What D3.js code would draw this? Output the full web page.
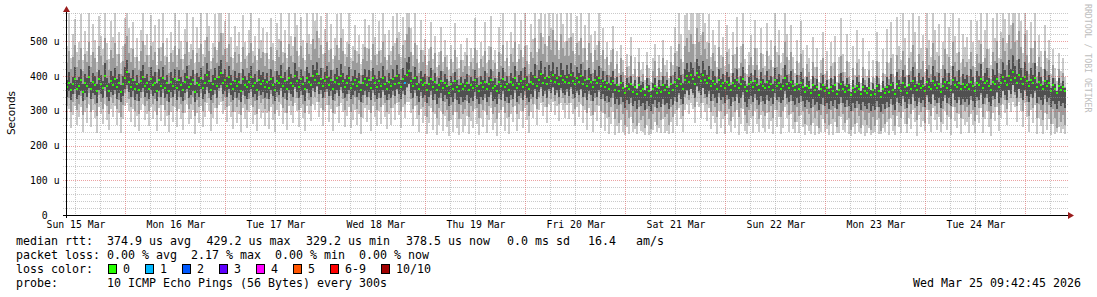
<!DOCTYPE html>
<html><head><meta charset="utf-8">
<script src="https://cdn.jsdelivr.net/npm/d3@7"></script>
<style>body{margin:0;background:#fff}svg{display:block}</style>
</head><body>
<svg id="c" width="1097" height="297"></svg>
<script>
// ---- data (microseconds), one value per time bin ----
const med = [
368,381,359,377,392,364,372,388,355,379,371,396,362,383,374,357,390,378,366,401,370,358,385,374,391,367,380,353,376,395,412,384,369,389,363,377,360,386,398,371,379,364,392,375,381,358,388,372,395,366,
379,356,384,371,392,365,388,374,360,382,397,369,376,388,355,381,373,393,366,379,402,385,361,378,392,370,398,409,381,389,372,396,377,363,386,371,382,358,390,375,367,384,396,372,380,361,389,377,385,368,
383,366,391,374,360,387,379,398,371,385,364,393,380,372,401,386,369,390,377,362,395,383,374,399,388,406,379,392,370,387,398,375,389,364,382,393,376,401,385,369,380,394,366,377,389,372,384,359,379,391,
374,388,365,393,380,369,386,372,395,378,364,383,371,390,376,399,381,368,392,379,403,415,386,371,395,377,362,389,374,381,360,376,392,368,383,359,374,387,366,380,371,352,378,364,385,369,356,377,363,371,
381,359,374,366,388,371,357,379,368,384,362,376,389,365,372,358,383,370,391,367,377,361,382,373,394,366,378,385,369,391,375,362,384,378,398,372,389,405,380,393,376,398,387,404,383,395,378,401,388,382,
397,381,402,386,376,393,384,399,378,389,371,392,383,367,388,379,394,372,385,369,381,364,376,387,361,374,358,379,366,350,371,362,377,355,368,349,373,358,364,346,369,357,343,362,371,352,366,355,374,359,
367,352,376,361,382,370,391,376,363,388,399,384,402,391,378,409,396,385,403,388,380,394,371,386,377,364,389,372,380,366,384,375,359,381,370,388,365,378,392,369,357,376,383,368,387,374,361,382,371,365,
383,369,376,361,388,372,380,364,371,393,378,366,384,370,359,377,363,381,369,355,372,366,351,374,360,368,346,362,375,357,365,350,369,358,373,349,361,378,364,355,371,359,344,366,353,370,362,348,367,358,
352,366,344,359,348,371,357,341,362,350,368,355,374,361,349,377,365,358,381,369,352,374,363,386,370,359,378,366,372,357,383,369,362,387,374,365,378,355,371,384,366,379,360,388,373,367,381,362,377,369,
375,362,384,370,358,381,373,391,366,379,387,370,361,383,376,392,368,380,397,385,374,399,388,411,393,381,402,390,377,398,385,371,389,379,395,367,382,374,363,386,370,379,358,373,364,352,371,360,368,356];
const innerLo = [
341,356,330,349,362,335,344,358,327,351,339,366,333,352,346,322,359,347,336,368,340,328,354,345,360,333,350,325,343,364,374,353,339,357,332,348,329,355,366,341,350,334,361,343,352,327,357,340,363,336,
348,326,353,340,360,332,357,341,329,350,364,337,345,356,324,351,340,362,333,348,369,352,330,345,360,338,365,374,349,356,340,363,346,331,354,338,351,326,358,343,335,352,364,339,349,330,357,345,353,336,
351,333,359,342,327,355,346,366,339,352,331,361,347,340,368,354,336,358,344,329,362,350,341,366,355,372,347,359,336,353,364,342,356,331,349,360,343,367,352,336,347,361,333,344,356,339,351,325,346,358,
340,355,331,360,346,335,352,338,361,344,330,349,337,356,342,364,347,333,358,345,369,378,350,336,361,342,325,354,338,346,322,339,357,331,348,320,336,352,327,344,333,314,341,326,350,330,318,339,324,332,
346,321,338,329,353,334,318,341,330,349,324,339,354,327,335,319,347,332,356,328,341,323,346,335,359,326,342,350,331,356,338,324,348,341,363,334,353,369,343,357,338,363,350,368,345,360,340,366,351,344,
362,343,367,349,337,358,346,364,339,352,332,357,345,328,351,340,359,333,348,329,342,324,337,350,320,334,316,340,325,308,330,320,337,313,327,306,332,315,322,303,328,314,300,319,331,309,324,312,334,316,
323,306,333,317,341,326,352,335,318,349,361,344,364,352,336,371,357,344,366,348,340,356,329,347,336,321,350,330,339,322,344,333,315,341,328,349,321,336,353,325,312,334,342,324,348,331,317,342,328,320,
345,329,337,320,350,332,341,323,330,356,338,324,346,329,316,337,321,342,327,311,331,324,307,334,317,326,302,319,336,313,322,305,327,314,332,304,318,339,321,311,330,315,299,323,308,329,318,303,325,313,
306,322,298,314,302,329,312,295,318,305,326,310,333,316,303,337,321,313,342,326,307,333,319,347,328,314,338,322,330,311,344,325,318,349,332,321,337,309,328,345,321,338,315,350,331,323,341,317,335,325,
333,316,343,327,312,340,330,351,320,337,347,326,315,342,333,353,322,338,358,344,330,361,347,374,353,338,364,350,332,359,343,325,349,336,356,321,340,330,317,345,325,336,311,329,318,305,327,313,322,309];
const innerHi = [
389,412,381,398,426,388,397,419,376,405,393,428,383,409,400,377,417,404,386,437,395,379,413,401,422,390,406,374,399,427,447,410,393,418,386,404,381,414,431,395,405,386,425,399,411,380,419,398,427,389,
403,376,411,394,421,387,416,398,382,408,428,391,400,417,375,409,396,424,388,405,438,414,383,403,422,394,430,445,407,419,396,428,403,385,413,394,409,378,421,399,389,410,429,395,406,382,418,402,412,390,
410,387,421,398,381,414,402,432,394,411,386,426,405,395,437,415,390,420,401,384,427,409,397,431,416,441,404,423,391,412,430,397,418,386,406,424,399,435,410,390,404,426,387,400,417,394,409,378,402,421,
397,416,385,424,404,390,413,395,428,401,384,410,392,421,398,433,405,388,422,402,440,455,411,392,426,399,380,415,396,406,378,398,423,387,409,377,394,414,383,406,391,371,401,382,412,388,373,398,381,390,
406,378,396,387,418,393,374,400,389,413,380,397,420,386,394,375,411,391,424,385,399,379,410,395,428,384,402,413,388,425,399,380,412,403,434,393,417,442,405,426,398,432,414,441,407,427,401,438,417,404,
432,406,438,412,396,427,409,435,400,418,389,424,407,385,416,401,430,392,414,386,404,381,397,415,378,396,372,402,384,366,393,379,401,370,389,364,398,374,383,360,393,373,356,381,395,365,388,371,401,376,
389,365,401,377,412,391,425,402,381,421,436,411,441,423,400,449,428,408,442,416,404,428,389,413,399,380,421,390,405,382,412,396,373,409,390,419,381,400,425,385,370,398,408,384,418,394,375,411,390,381,
413,388,401,377,424,391,406,380,392,432,403,384,414,389,372,402,378,411,390,369,396,385,364,399,374,390,360,381,402,370,388,364,394,374,399,361,380,410,385,370,395,376,355,388,365,397,382,358,393,373,
367,393,360,381,364,400,378,355,387,366,397,373,405,382,363,412,389,378,418,396,367,404,384,425,397,376,410,389,397,370,421,393,382,428,401,385,409,366,393,419,385,410,374,430,398,387,417,373,405,390,
404,379,419,396,371,413,401,434,386,408,424,393,374,419,403,438,384,406,441,418,398,445,421,460,429,406,448,423,396,440,414,385,423,402,437,381,412,396,375,421,388,404,366,394,376,358,393,371,386,365];
const midLo = [
314,338,297,325,349,302,320,343,288,331,309,352,296,335,318,285,346,326,306,357,313,291,339,322,348,304,330,281,317,351,362,334,310,340,299,327,290,336,355,315,329,300,347,318,333,287,341,316,352,303,
327,289,336,313,347,298,341,320,293,332,354,306,318,339,284,331,311,350,300,325,360,338,292,322,348,309,356,366,329,340,312,352,324,295,337,312,330,287,345,319,301,334,354,310,328,292,343,322,335,304,
334,298,347,318,290,339,326,358,309,334,294,351,327,313,363,338,302,345,320,293,352,331,315,357,340,368,325,348,303,336,355,316,343,294,328,350,314,361,334,303,327,349,297,318,341,306,332,282,322,346,
316,340,294,351,325,303,337,310,354,322,297,331,308,345,318,359,326,299,347,320,366,376,333,305,350,316,288,343,311,325,283,313,346,295,330,279,309,338,291,324,302,270,317,288,335,297,276,316,290,304,
327,283,314,298,343,309,279,320,301,337,287,315,344,292,310,277,333,303,348,294,322,281,330,311,352,291,319,336,299,346,317,286,335,320,357,305,340,362,324,349,311,356,334,365,327,352,318,360,338,323,
355,322,362,333,305,351,326,359,313,341,294,349,329,288,337,316,354,300,335,292,323,283,310,338,276,306,265,318,290,258,301,280,322,264,296,255,310,272,286,250,305,277,247,291,312,260,297,273,318,282,
291,260,311,283,328,302,345,317,285,340,356,331,362,344,311,369,350,323,366,337,318,347,296,329,312,281,339,298,319,284,331,306,270,324,297,339,281,307,344,289,266,303,320,284,337,305,276,326,298,285,
332,296,315,280,340,301,324,283,299,349,320,287,329,295,268,312,284,326,298,261,306,290,259,310,278,300,250,288,316,265,292,258,303,276,309,254,285,321,290,266,311,279,245,298,262,307,284,251,300,272,
259,294,246,281,256,312,278,241,290,262,309,276,318,287,255,324,297,280,333,304,262,318,291,341,309,272,326,295,311,266,339,303,285,346,314,291,322,267,305,337,289,320,275,349,312,293,330,279,316,300,
311,282,331,302,270,327,308,346,283,318,337,300,275,330,312,350,288,316,357,332,305,361,336,378,346,314,365,338,298,358,324,286,339,308,352,279,320,301,272,333,292,316,261,304,278,250,296,267,289,259];
const midHi = [
438,472,421,455,489,427,446,481,414,463,440,497,425,469,452,411,485,458,433,508,447,418,476,451,494,430,462,406,443,492,515,467,439,479,424,456,417,473,501,441,460,425,487,447,468,412,480,444,496,431,
455,409,467,441,486,426,478,450,417,463,499,432,448,476,405,465,439,492,428,454,513,471,419,452,484,436,497,524,459,477,440,493,456,418,470,437,462,410,483,448,423,466,495,437,458,414,479,451,469,429,
467,421,484,447,414,475,456,501,437,466,418,492,458,441,511,473,427,487,452,415,494,463,445,506,479,529,452,489,424,466,497,439,477,416,458,490,446,510,471,430,455,491,419,444,476,436,462,402,450,484,
444,477,415,493,459,431,472,437,498,454,416,461,433,486,446,509,463,421,490,451,522,541,470,428,495,448,408,476,439,459,401,442,483,418,465,396,433,471,414,456,426,385,448,409,475,421,392,447,411,430,
460,404,441,421,480,436,397,450,425,472,408,445,483,415,437,393,468,428,490,412,452,399,464,440,498,414,448,474,423,487,444,405,470,453,509,431,479,524,462,493,440,514,476,531,459,500,448,520,482,457,
502,458,513,471,432,494,461,508,441,481,417,495,466,410,476,447,501,424,474,414,456,403,440,478,393,435,378,451,411,369,427,398,458,377,421,366,441,387,407,359,433,393,352,415,444,370,422,389,451,400,
412,371,441,402,466,428,492,449,405,486,508,469,521,492,440,537,498,459,526,479,448,496,419,467,442,397,483,423,454,402,470,434,384,460,422,484,398,437,493,410,377,431,456,403,481,433,392,465,423,404,
471,419,447,398,485,426,461,403,424,499,455,407,468,419,380,443,403,464,424,372,435,412,366,440,395,427,357,409,451,377,415,365,430,391,439,360,405,458,412,378,444,396,349,423,373,436,403,356,427,388,
366,418,351,398,362,444,394,344,410,371,439,391,452,407,362,461,421,398,473,431,370,452,413,488,439,386,464,419,443,376,481,431,405,494,446,411,457,379,433,478,409,454,390,499,441,414,468,396,448,425,
441,399,469,428,383,463,437,492,401,451,479,424,391,468,442,502,409,450,510,471,433,519,478,552,499,447,529,484,423,520,461,406,480,436,502,397,455,425,386,472,414,447,372,431,394,355,420,381,410,367];
const minRtt = [
271,305,249,288,314,258,281,310,240,296,266,320,252,301,279,237,312,291,262,318,274,246,306,283,315,259,293,236,277,313,322,299,268,304,254,286,243,302,319,272,292,255,311,276,298,241,307,270,316,257,
285,239,296,268,312,252,305,277,244,293,318,261,275,302,234,294,266,314,253,283,321,299,242,279,309,262,317,324,290,303,267,313,281,248,297,266,290,238,308,276,251,295,316,263,287,243,305,279,294,257,
294,248,311,273,239,302,286,320,262,294,245,315,287,265,322,298,253,307,279,241,314,291,270,318,301,325,281,309,255,297,316,268,305,243,290,312,266,321,296,254,284,310,249,272,302,258,291,233,278,307,
268,302,243,314,283,255,298,262,317,281,247,291,259,308,273,321,288,251,311,279,324,326,293,257,313,275,238,306,264,284,232,265,309,246,292,230,260,299,241,285,253,226,274,238,297,249,229,276,240,256,
285,233,270,249,304,263,229,280,253,300,237,272,307,244,264,228,294,256,311,242,279,232,290,267,314,241,275,299,250,309,273,235,297,280,320,259,302,322,284,311,265,318,295,324,287,313,271,321,301,279,
316,277,322,290,255,311,281,319,264,301,244,309,286,238,296,270,315,250,293,241,278,234,262,297,229,256,236,272,240,231,254,233,281,238,248,233,265,241,238,229,259,229,232,244,268,240,250,237,275,236,
243,234,269,236,290,256,309,276,238,303,318,290,322,306,265,324,311,279,321,297,271,308,248,286,266,232,300,251,276,234,292,259,240,283,249,301,231,262,306,241,232,257,279,236,299,261,239,288,250,238,
293,248,270,232,302,254,283,234,251,312,279,240,291,247,236,268,236,288,252,230,259,242,233,265,229,255,234,240,275,238,247,231,262,229,269,235,237,282,245,240,272,233,228,253,232,266,238,234,260,226,
236,251,229,236,238,272,232,232,249,239,269,230,279,243,231,286,254,236,295,262,237,278,247,303,268,226,287,252,270,242,301,262,240,308,272,246,281,240,263,298,244,281,229,311,270,250,292,234,275,258,
268,237,291,259,237,288,265,307,236,276,298,254,228,293,270,312,243,278,318,293,260,323,296,325,310,268,325,300,253,322,283,239,301,264,316,232,279,255,233,294,246,276,230,262,232,239,254,235,247,233];
const maxRtt = [
487,585,452,521,563,468,498,577,446,530,472,585,459,549,503,441,572,516,477,585,494,450,558,511,585,463,527,438,486,568,585,539,481,556,455,509,444,533,585,490,521,461,576,497,547,432,565,484,585,458,
508,441,527,476,585,459,562,502,448,536,585,470,493,571,436,540,482,585,462,505,585,545,443,496,578,474,585,585,524,559,481,585,512,452,543,487,528,439,575,499,457,531,585,472,515,446,566,503,538,465,
526,449,568,494,442,553,507,585,470,531,451,585,515,486,585,548,457,571,503,447,585,522,491,585,559,585,509,574,462,534,585,476,551,448,508,579,481,585,536,464,497,583,452,487,546,471,519,435,493,565,
481,546,447,585,512,463,557,476,585,520,445,531,472,574,494,585,526,455,569,503,585,585,538,461,585,489,437,562,474,507,431,479,555,448,516,426,468,541,441,503,459,418,489,439,552,455,422,493,446,470,
510,428,480,451,568,476,424,497,458,555,436,486,572,447,475,421,540,463,585,444,501,430,527,482,585,439,492,561,456,585,488,434,549,507,585,470,563,585,512,577,485,585,538,585,503,579,474,585,551,499,
585,508,585,524,463,573,502,585,481,546,447,585,518,441,530,489,585,459,537,448,497,432,476,544,421,471,409,489,447,402,462,428,511,405,455,396,480,417,439,388,470,424,383,452,491,399,459,412,503,431,
447,394,486,433,540,471,585,522,441,575,585,531,585,582,493,585,585,517,585,553,498,579,455,532,489,426,561,459,511,430,548,478,410,527,463,569,422,485,585,448,407,470,519,433,560,482,418,538,463,429,
552,458,504,425,585,469,531,437,466,585,521,445,548,456,409,503,438,557,474,398,489,452,392,512,427,481,384,446,528,405,471,390,499,437,516,383,455,566,463,412,521,440,375,487,402,532,449,381,508,421,
401,472,384,446,395,527,441,373,478,406,534,438,555,463,398,571,486,445,585,509,404,560,469,585,527,421,574,480,518,412,585,503,456,585,531,470,551,419,499,585,462,541,428,585,514,466,568,437,520,483,
512,448,561,497,427,558,504,585,441,531,585,478,433,566,509,585,452,526,585,563,496,585,548,585,585,503,585,559,465,585,532,437,556,481,585,428,518,472,419,547,453,505,406,478,424,386,466,413,451,397];
// bins that had packet loss (bin index, lost pings)
const lossBins = [169];
const lossCounts = [1];

const yTicks = [0, 100, 200, 300, 400, 500];
const lossLabels = ["0", "1", "2", "3", "4", "5", "6-9", "10/10"];
const lossColors = ["#26ff00", "#00b8ff", "#0059ff", "#5e00ff", "#ff00ff", "#ff5500", "#ff0000", "#a10000"];
const statsRtt = ["374.9 us avg", "429.2 us max", "329.2 us min", "378.5 us now", "0.0 ms sd", "16.4", "am/s"];
const statsLoss = ["0.00 % avg", "2.17 % max", "0.00 % min", "0.00 % now"];
const probeText = "10 ICMP Echo Pings (56 Bytes) every 300s";
const stampText = "Wed Mar 25 09:42:45 2026";

// ---- drawing ----
const svg = d3.select("#c");
const X0 = 66, X1 = 1066, YB = 215, YT = 13;
const t0 = Date.UTC(2026, 2, 15, 9, 50, 24);
const t1 = t0 + 10 * 86400000;
const x = d3.scaleUtc().domain([t0, t1]).range([X0, X1]);
const y = d3.scaleLinear().domain([0, 500]).range([YB, 41.25]);
const vTop = y.invert(YT);
const binMs = (t1 - t0) / med.length;
const bt = i => t0 + i * binMs;
const mono = "'DejaVu Sans Mono', monospace";

const plot = svg.append("g").attr("shape-rendering", "crispEdges");
function band(lo, hi, color) {
  plot.append("g").selectAll("rect").data(d3.range(med.length)).join("rect")
    .attr("x", i => x(bt(i)))
    .attr("width", i => x(bt(i + 1)) - x(bt(i)))
    .attr("y", i => y(Math.min(hi[i], vTop)))
    .attr("height", i => Math.max(0, y(lo[i]) - y(Math.min(hi[i], vTop))))
    .attr("fill", color);
}
band(minRtt, maxRtt, "#cacaca");
band(midLo, midHi, "#9c9c9c");
band(innerLo, innerHi, "#505050");

// median markers coloured by loss
const lossOf = i => { const k = lossBins.indexOf(i); return k < 0 ? 0 : lossCounts[k]; };
plot.append("g").selectAll("rect").data(d3.range(med.length)).join("rect")
  .attr("x", i => x(bt(i)))
  .attr("width", i => x(bt(i + 1)) - x(bt(i)))
  .attr("y", i => y(med[i]) - 1)
  .attr("height", 2)
  .attr("fill", i => lossColors[lossOf(i)]);

// grid
const grid = svg.append("g").attr("shape-rendering", "crispEdges").attr("stroke-dasharray", "1,1");
const minorC = "rgba(150,150,150,0.5)", majorC = "rgba(215,70,70,0.5)";
d3.range(20, 600, 20).filter(v => y(v) >= YT - 0.5).forEach(v => {
  const yy = Math.round(y(v)) + 0.5;
  grid.append("line").attr("x1", X0 - 3).attr("x2", X1 + 2).attr("y1", yy).attr("y2", yy)
    .attr("stroke", v % 100 === 0 ? majorC : minorC);
});
d3.utcHour.every(6).range(t0, t1).forEach(t => {
  const xx = Math.round(x(t)) + 0.5;
  const major = new Date(t).getUTCHours() === 0;
  grid.append("line").attr("x1", xx).attr("x2", xx).attr("y1", YT).attr("y2", YB + 2)
    .attr("stroke", major ? majorC : minorC);
});

// axes
svg.append("line").attr("x1", X0 - 3).attr("x2", X1 + 2).attr("y1", YB + 0.5).attr("y2", YB + 0.5)
  .attr("stroke", "#000").attr("shape-rendering", "crispEdges");
svg.append("line").attr("x1", X0 + 0.5).attr("x2", X0 + 0.5).attr("y1", YT - 2).attr("y2", YB + 3)
  .attr("stroke", "#000").attr("shape-rendering", "crispEdges");
svg.append("path").attr("d", `M${X1 + 2},${YB - 3} L${X1 + 8},${YB + 0.5} L${X1 + 2},${YB + 4} Z`).attr("fill", "#9a1c1c");
svg.append("path").attr("d", `M${X0 - 3},${YT - 1} L${X0 + 0.5},${YT - 7} L${X0 + 4},${YT - 1} Z`).attr("fill", "#9a1c1c");

// y labels
const yl = svg.append("g").attr("font-family", mono).attr("font-size", "9.8px").attr("fill", "#000");
yTicks.forEach(v => {
  yl.append("text").attr("x", 47.7).attr("y", y(v) + 3.5).attr("text-anchor", "end").text(v);
  if (v !== 0) yl.append("text").attr("x", 53.8).attr("y", y(v) + 3.5).text("u");
});
// x labels (centred at noon)
d3.utcDay.range(d3.utcDay.floor(t0), t1).forEach(d => {
  const noon = +d + 12 * 3600000;
  if (noon < t0 || noon > t1) return;
  yl.append("text").attr("x", x(noon) + 1).attr("y", 228).attr("text-anchor", "middle")
    .text(d3.utcFormat("%a %d %b")(new Date(noon)));
});

// y title
svg.append("text").attr("transform", "translate(14.5,113) rotate(-90)").attr("text-anchor", "middle")
  .attr("font-family", "'DejaVu Sans', sans-serif").attr("font-size", "10.5px").text("Seconds");
// watermark
svg.append("text").attr("transform", "translate(1084.5,4) rotate(90)")
  .attr("font-family", mono).attr("font-size", "8.2px").attr("fill", "#bdbdbd").text("RRDTOOL / TOBI OETIKER");

// legend
const lg = svg.append("g").attr("font-family", mono).attr("font-size", "11.63px").attr("fill", "#000");
const row1X = [107, 206.5, 306, 406, 507, 588, 636];
lg.append("text").attr("x", 16).attr("y", 245).text("median rtt:");
statsRtt.forEach((s, i) => lg.append("text").attr("x", row1X[i]).attr("y", 245).text(s));
const row2X = [107, 191, 275, 359];
lg.append("text").attr("x", 16).attr("y", 259).text("packet loss:");
statsLoss.forEach((s, i) => lg.append("text").attr("x", row2X[i]).attr("y", 259).text(s));
lg.append("text").attr("x", 16).attr("y", 273).text("loss color:");
const swX = [108.5, 145.5, 182.5, 219.5, 256.5, 293.5, 330.5, 381.5];
lossLabels.forEach((l, i) => {
  lg.append("rect").attr("x", swX[i]).attr("y", 264.5).attr("width", 8).attr("height", 9)
    .attr("fill", lossColors[i]).attr("stroke", "#000").attr("shape-rendering", "crispEdges");
  lg.append("text").attr("x", swX[i] + 14.5).attr("y", 273).text(l);
});
lg.append("text").attr("x", 16).attr("y", 287).text("probe:");
lg.append("text").attr("x", 107).attr("y", 287).text(probeText);
lg.append("text").attr("x", 1081).attr("y", 287).attr("text-anchor", "end").text(stampText);
</script>
</body></html>
